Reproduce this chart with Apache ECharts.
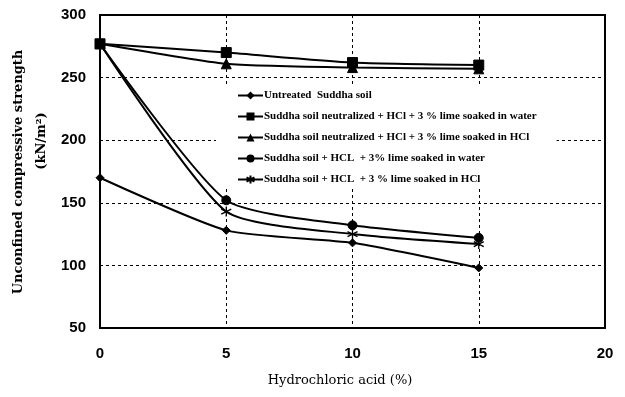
<!DOCTYPE html>
<html>
<head>
<meta charset="utf-8">
<script src="https://cdn.jsdelivr.net/npm/echarts@6/dist/echarts.min.js"></script>
<style>
  html, body { margin: 0; padding: 0; background: #fff; }
  #chart { width: 625px; height: 397px; }
</style>
</head>
<body>
<div id="chart"></div>
<script>
// Hydrochloric acid content (%)
const acidLevels = [0, 5, 10, 15];

// Unconfined compressive strength (kN/m²) per treatment
const untreated       = [170, 128, 118, 98];
const neutralWater    = [277, 270, 262, 260];
const neutralHcl      = [277, 261, 258, 257];
const limeWater       = [277, 152, 132, 122];
const limeHcl         = [277, 143, 125, 117];

const seriesNames = [
  'Untreated  Suddha soil',
  'Suddha soil neutralized + HCl + 3 % lime soaked in water',
  'Suddha soil neutralized + HCl + 3 % lime soaked in HCl',
  'Suddha soil + HCL  + 3% lime soaked in water',
  'Suddha soil + HCL  + 3 % lime soaked in HCl'
];

const xTicks = [0, 5, 10, 15, 20];
const yTicks = [50, 100, 150, 200, 250, 300];

// six-armed asterisk marker, stroked
const asterisk = 'path://M5 0L5 10M0.7 2.5L9.3 7.5M0.7 7.5L9.3 2.5';

function pairs(values) {
  return acidLevels.map((x, i) => [x, values[i]]);
}

const seriesDefs = [
  { data: untreated, symbol: 'diamond', size: 8 },
  { data: neutralWater, symbol: 'rect', size: 10 },
  { data: neutralHcl, symbol: 'triangle', size: 10 },
  { data: limeWater, symbol: 'circle', size: 9 },
  { data: limeHcl, symbol: asterisk, size: 10, stroke: true }
];

const chart = echarts.init(document.getElementById('chart'), null, { renderer: 'canvas' });

chart.setOption({
  animation: false,
  backgroundColor: '#ffffff',
  grid: { left: 100, right: 20, top: 15, bottom: 69, show: true, borderColor: '#000', borderWidth: 2, backgroundColor: 'transparent' },
  xAxis: {
    type: 'value',
    min: xTicks[0],
    max: xTicks[xTicks.length - 1],
    interval: 5,
    axisLine: { show: false },
    axisTick: { show: false },
    axisLabel: { margin: 18, color: '#000', fontFamily: 'Liberation Sans, Arial, sans-serif', fontWeight: 'bold', fontSize: 15 },
    splitLine: { show: true, lineStyle: { color: '#000', type: [3, 3], width: 1 } }
  },
  yAxis: {
    type: 'value',
    min: yTicks[0],
    max: yTicks[yTicks.length - 1],
    interval: 50,
    axisLine: { show: false },
    axisTick: { show: false },
    axisLabel: { margin: 14, color: '#000', fontFamily: 'Liberation Sans, Arial, sans-serif', fontWeight: 'bold', fontSize: 15 },
    splitLine: { show: true, lineStyle: { color: '#000', type: [3, 3], width: 1 } }
  },
  legend: {
    orient: 'vertical',
    left: 216,
    top: 85,
    padding: [5, 20, 4, 21],
    itemGap: 10,
    itemWidth: 25,
    itemHeight: 10,
    backgroundColor: '#ffffff',
    textStyle: { color: '#000', fontFamily: 'Liberation Serif, Times New Roman, serif', fontWeight: 'bold', fontSize: 11, padding: [0, 0, 0, -4] },
    data: seriesNames
  },
  graphic: [
    {
      type: 'text',
      x: 340, y: 381,
      style: { text: 'Hydrochloric acid (%)', fill: '#000', font: '13px "DejaVu Serif", serif', align: 'center', verticalAlign: 'middle' }
    },
    {
      type: 'text',
      x: 19, y: 172,
      rotation: Math.PI / 2,
      style: { text: 'Unconfined compressive strength', fill: '#000', font: 'bold 13px "DejaVu Serif", serif', align: 'center', verticalAlign: 'middle' }
    },
    {
      type: 'text',
      x: 42, y: 141,
      rotation: Math.PI / 2,
      style: { text: '(kN/m²)', fill: '#000', font: 'bold 13px "DejaVu Serif", serif', align: 'center', verticalAlign: 'middle' }
    }
  ],
  series: seriesDefs.map((d, i) => ({
    name: seriesNames[i],
    type: 'line',
    z: 6,
    data: pairs(d.data),
    smooth: 0.2,
    symbol: d.symbol,
    symbolSize: d.size,
    lineStyle: { color: '#000', width: 2 },
    itemStyle: d.stroke
      ? { color: 'rgba(0,0,0,0)', borderColor: '#000', borderWidth: 1.3 }
      : { color: '#000', borderColor: '#000' }
  }))
});
</script>
</body>
</html>
